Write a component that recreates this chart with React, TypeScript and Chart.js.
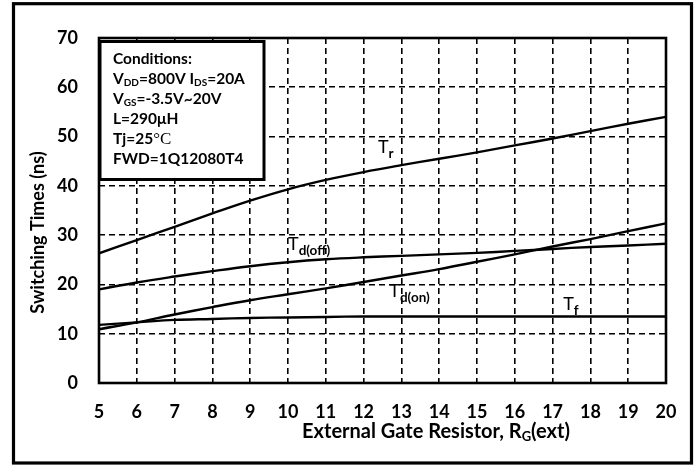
import { useEffect, useRef } from "react";
import { Chart, registerables } from "chart.js";

Chart.register(...registerables);

// External gate resistor RG(ext) in ohms
const rg = [5, 6, 7, 8, 9, 10, 11, 12, 13, 14, 15, 16, 17, 18, 19, 20];
// Switching times (ns)
const tr = [26.3, 29.0, 31.7, 34.4, 37.0, 39.3, 41.2, 42.8, 44.2, 45.5, 46.8, 48.2, 49.6, 51.1, 52.6, 54.0];
const tdOff = [19.0, 20.4, 21.6, 22.7, 23.7, 24.5, 25.1, 25.5, 25.8, 26.1, 26.4, 26.8, 27.2, 27.6, 27.9, 28.25];
const tdOn = [10.9, 12.3, 13.9, 15.4, 16.8, 18.0, 19.2, 20.5, 21.8, 23.1, 24.6, 26.1, 27.7, 29.2, 30.8, 32.4];
const tf = [11.8, 12.3, 12.8, 13.0, 13.2, 13.3, 13.4, 13.5, 13.5, 13.5, 13.5, 13.5, 13.5, 13.5, 13.5, 13.5];

const xMin = 5;
const xMax = 20;
const xStep = 1;
const yMin = 0;
const yMax = 70;
const yStep = 10;

const yTitle = "Switching Times (ns)";
const xTitleParts: [string, boolean][] = [
  ["External Gate Resistor, R", false],
  ["G", true],
  ["(ext)", false],
];

// Curve labels: main letter, subscript, anchor (data coords of T baseline-left)
const curveLabelMain = ["T", "T", "T", "T"];
const curveLabelSub = ["r", "d(off)", "d(on)", "f"];
const curveLabelX = [12.38, 10.0, 12.68, 17.28];
const curveLabelY = [46.74, 27.03, 17.48, 14.83];

// Conditions text (segments: [text, isSubscript])
const conditions: [string, boolean][][] = [
  [["Conditions:", false]],
  [["V", false], ["DD", true], ["=800V I", false], ["DS", true], ["=20A", false]],
  [["V", false], ["GS", true], ["=-3.5V~20V", false]],
  [["L=290\u03bcH", false]],
  [["Tj=25", false], ["\u2103", false]],
  [["FWD=1Q12080T4", false]],
];

const FONT = "Lato, 'Open Sans', sans-serif";

const decorPlugin = {
  id: "decor",
  beforeDraw(chart: any) {
    const ctx = chart.ctx;
    ctx.save();
    ctx.fillStyle = "#fff";
    ctx.fillRect(0, 0, chart.width, chart.height);
    ctx.restore();
  },
  beforeDatasetsDraw(chart: any) {
    const { ctx, chartArea } = chart;
    ctx.save();
    ctx.strokeStyle = "#000";
    ctx.lineWidth = 2.6;
    ctx.strokeRect(chartArea.left, chartArea.top, chartArea.right - chartArea.left, chartArea.bottom - chartArea.top);
    ctx.restore();
  },
  afterDatasetsDraw(chart: any) {
    const { ctx, chartArea, scales } = chart;
    const xs = scales.x;
    const ys = scales.y;
    ctx.save();
    // curve labels
    ctx.fillStyle = "#000";
    ctx.textBaseline = "alphabetic";
    ctx.textAlign = "left";
    for (let i = 0; i < curveLabelMain.length; i++) {
      const px = xs.getPixelForValue(curveLabelX[i]);
      const py = ys.getPixelForValue(curveLabelY[i]);
      ctx.font = `400 18px ${FONT}`;
      ctx.fillText(curveLabelMain[i], px, py);
      const w = ctx.measureText(curveLabelMain[i]).width;
      ctx.font = `700 13.5px ${FONT}`;
      ctx.fillText(curveLabelSub[i], px + w, py + 5);
    }

    // conditions box
    const bx = chartArea.left + 1;
    const by = chartArea.top + 3.5;
    const bw = 164;
    const bh = 138;
    ctx.fillStyle = "#fff";
    ctx.fillRect(bx, by, bw, bh);
    ctx.strokeStyle = "#000";
    ctx.lineWidth = 3;
    ctx.strokeRect(bx, by, bw, bh);
    ctx.fillStyle = "#000";
    const tx = bx + 13;
    let ty = by + 22;
    for (const line of conditions) {
      let cx = tx;
      for (const [txt, sub] of line) {
        if (txt === "\u2103") {
          ctx.font = `400 17px 'Liberation Serif', 'DejaVu Serif', serif`;
          ctx.fillText("\u00b0C", cx, ty);
          cx += ctx.measureText("\u00b0C").width;
          continue;
        }
        ctx.font = sub ? `700 10px ${FONT}` : `700 15.5px ${FONT}`;
        ctx.fillText(txt, cx, ty + (sub ? 2.5 : 0));
        cx += ctx.measureText(txt).width;
      }
      ty += 20;
    }

    // y title
    ctx.save();
    ctx.translate(44, (chartArea.top + chartArea.bottom) / 2 + 22);
    ctx.rotate(-Math.PI / 2);
    ctx.font = `700 18px ${FONT}`;
    ctx.textAlign = "center";
    ctx.fillText(yTitle, 0, 0);
    ctx.restore();

    // x title
    let totalW = 0;
    for (const [txt, sub] of xTitleParts) {
      ctx.font = sub ? `700 13px ${FONT}` : `700 20px ${FONT}`;
      totalW += ctx.measureText(txt).width;
    }
    let cx = 436 - totalW / 2;
    const baseY = 438;
    for (const [txt, sub] of xTitleParts) {
      ctx.font = sub ? `700 13px ${FONT}` : `700 20px ${FONT}`;
      ctx.fillText(txt, cx, baseY + (sub ? 3 : 0));
      cx += ctx.measureText(txt).width;
    }
    ctx.restore();
  },
  afterDraw(chart: any) {
    const ctx = chart.ctx;
    ctx.save();
    ctx.strokeStyle = "#000";
    ctx.lineWidth = 3.2;
    ctx.strokeRect(13.5, 3.7, 678, 459.3);
    ctx.restore();
  },
};

export default function App() {
  const ref = useRef<HTMLCanvasElement | null>(null);
  useEffect(() => {
    if (!ref.current) return;
    const mk = (d: number[]) => ({
      data: rg.map((x, i) => ({ x, y: d[i] })),
      borderColor: "#000",
      borderWidth: 2.4,
      pointRadius: 0,
      fill: false,
      tension: 0.4,
    });
    const chart = new Chart(ref.current, {
      type: "line",
      data: { datasets: [mk(tr), mk(tdOff), mk(tdOn), mk(tf)] },
      options: {
        animation: false,
        responsive: false,
        maintainAspectRatio: false,
        layout: { padding: { left: 0, top: 38, right: 33, bottom: 0 } },
        plugins: { legend: { display: false }, tooltip: { enabled: false }, title: { display: false } },
        scales: {
          x: {
            type: "linear",
            min: xMin,
            max: xMax,
            ticks: { stepSize: xStep, padding: 18, color: "#000", font: { family: FONT, size: 18, weight: "bold" } },
            grid: { color: "#000", lineWidth: 1.6, drawTicks: false },
            border: { display: false, dash: [6, 4] },
            afterFit: (s: any) => {
              s.height = 82;
            },
          },
          y: {
            min: yMin,
            max: yMax,
            ticks: { stepSize: yStep, padding: 21, color: "#000", font: { family: FONT, size: 18, weight: "bold" } },
            grid: { color: "#000", lineWidth: 1.6, drawTicks: false },
            border: { display: false, dash: [6, 4] },
            afterFit: (s: any) => {
              s.width = 99;
            },
          },
        },
      } as any,
      plugins: [decorPlugin],
    });
    return () => chart.destroy();
  }, []);
  return (
    <div style={{ position: "absolute", left: 0, top: 0, width: 699, height: 465, background: "#fff" }}>
      <canvas ref={ref} width={699} height={465} style={{ display: "block" }} />
    </div>
  );
}
